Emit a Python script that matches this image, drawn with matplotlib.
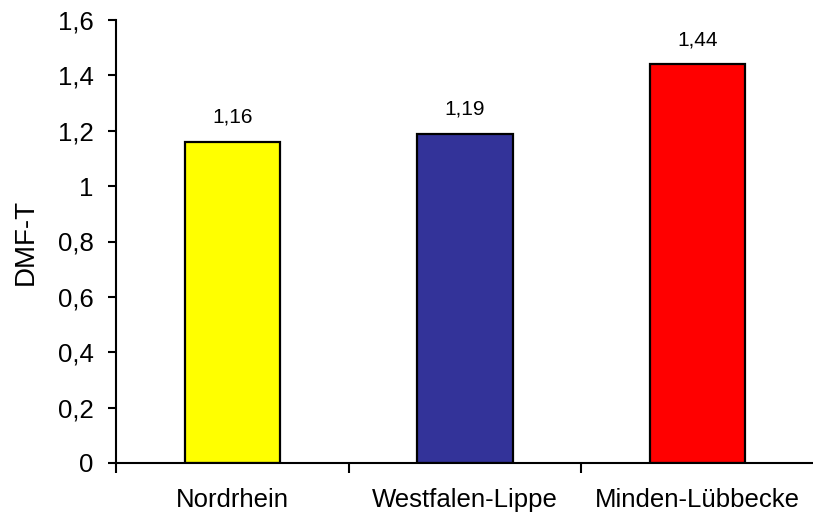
import matplotlib.pyplot as plt
from matplotlib.ticker import FuncFormatter, FixedLocator

plt.rcParams['font.family'] = ['Liberation Sans', 'DejaVu Sans']

regions = ['Nordrhein', 'Westfalen-Lippe', 'Minden-Lübbecke']
dmft = [1.16, 1.19, 1.44]
bar_colors = ['#FFFF00', '#333399', '#FF0000']

def comma(v, pos=None):
    # German decimal comma, no trailing zeros
    s = f"{v:.2f}".rstrip('0').rstrip('.')
    return s.replace('.', ',')

fig = plt.figure(figsize=(8.13, 5.13), dpi=100)
ax = fig.add_axes([116 / 813, 50 / 513, 698 / 813, 443 / 513])

x = list(range(len(regions)))
ax.bar(x, dmft, width=0.41, color=bar_colors, edgecolor='black', linewidth=1.6)

for xi, v in zip(x, dmft):
    ax.text(xi, v + 0.055, comma(v), ha='center', va='bottom', fontsize=15)

ax.set_xlim(-0.5, 2.5)
ax.set_ylim(0, 1.6)
ax.set_yticks([i * 0.2 for i in range(9)])
ax.yaxis.set_major_formatter(FuncFormatter(comma))

ax.set_xticks(x)
ax.set_xticklabels(regions)
ax.xaxis.set_minor_locator(FixedLocator([-0.5, 0.5, 1.5]))
ax.tick_params(axis='x', which='major', length=0, pad=18, labelsize=18.5)
ax.tick_params(axis='x', which='minor', length=7, width=1.5, direction='out')
ax.tick_params(axis='y', length=6, width=1.5, direction='out', labelsize=18.5, pad=10)

ax.set_ylabel('DMF-T', fontsize=20, labelpad=14)

for side in ['top', 'right']:
    ax.spines[side].set_visible(False)
for side in ['left', 'bottom']:
    ax.spines[side].set_linewidth(1.5)

fig.savefig('out.png', dpi=100)
